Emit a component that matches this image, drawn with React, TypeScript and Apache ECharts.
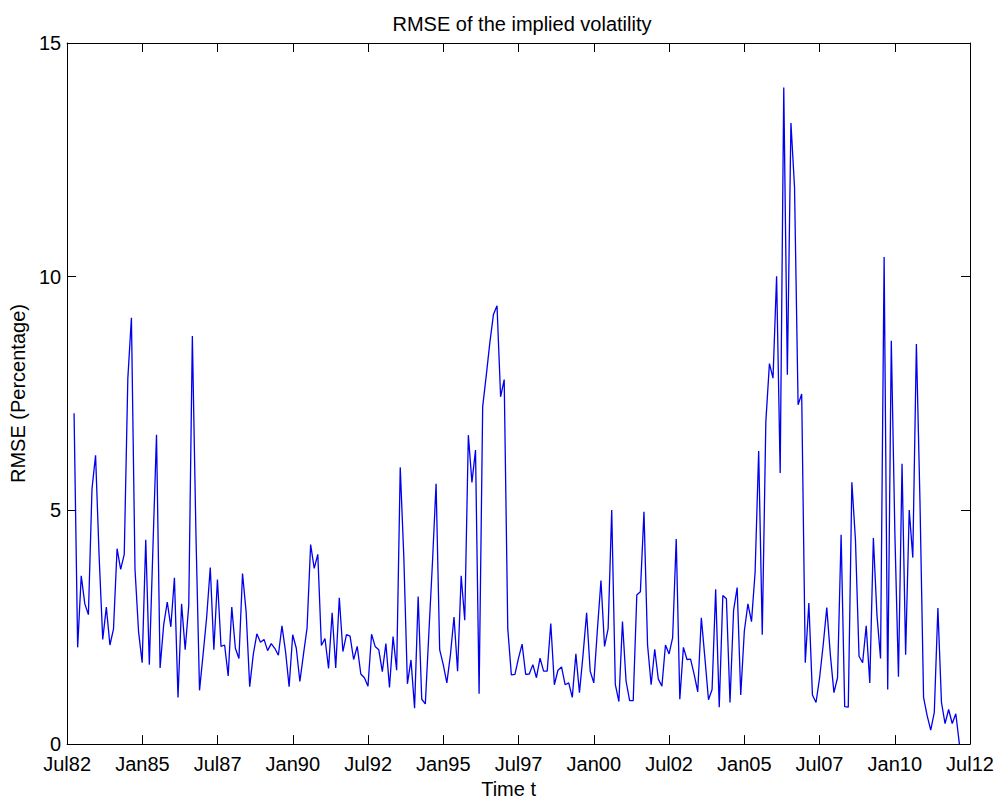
import React, { useEffect, useRef } from "react";
import * as echarts from "echarts";

// RMSE of the implied volatility (percentage)
const rmse: number[] = [
  7.08, 2.07, 3.6, 3.0, 2.77, 5.46, 6.18, 4.0, 2.24, 2.93,
  2.12, 2.46, 4.18, 3.74, 4.06, 7.82, 9.12, 3.74, 2.4, 1.74,
  4.37, 1.7, 4.2, 6.62, 1.63, 2.55, 3.04, 2.51, 3.56, 1.0,
  3.0, 2.02, 2.97, 8.73, 4.5, 1.15, 1.92, 2.72, 3.78, 2.02,
  3.52, 2.09, 2.12, 1.46, 2.93, 2.05, 1.83, 3.65, 2.83, 1.23,
  1.92, 2.36, 2.18, 2.24, 2.0, 2.15, 2.05, 1.9, 2.53, 1.98,
  1.23, 2.34, 2.05, 1.34, 1.92, 2.48, 4.27, 3.76, 4.06, 2.11,
  2.26, 1.62, 2.81, 1.63, 3.13, 1.98, 2.34, 2.31, 1.81, 2.09,
  1.5, 1.42, 1.24, 2.35, 2.09, 2.02, 1.55, 2.15, 1.21, 2.3,
  1.58, 5.92, 4.0, 1.29, 1.8, 0.77, 3.16, 0.96, 0.86, 2.4,
  3.9, 5.57, 2.02, 1.7, 1.31, 1.91, 2.72, 1.56, 3.6, 2.65,
  6.61, 5.6, 6.29, 1.08, 7.22, 7.89, 8.59, 9.19, 9.38, 7.43,
  7.8, 2.47, 1.48, 1.49, 1.84, 2.14, 1.49, 1.5, 1.7, 1.42,
  1.84, 1.56, 1.56, 2.58, 1.27, 1.58, 1.65, 1.27, 1.31, 1.0,
  1.93, 1.1, 1.91, 2.81, 1.56, 1.31, 2.44, 3.5, 2.09, 2.47,
  5.01, 1.28, 0.91, 2.62, 1.35, 0.93, 0.93, 3.19, 3.26, 4.97,
  2.12, 1.27, 2.03, 1.39, 1.24, 2.12, 1.93, 2.28, 4.39, 0.96,
  2.07, 1.81, 1.82, 1.49, 1.12, 2.7, 1.84, 0.95, 1.17, 3.31,
  0.79, 3.18, 3.11, 0.89, 2.86, 3.35, 1.05, 2.42, 3.0, 2.62,
  3.67, 6.27, 2.34, 6.9, 8.14, 7.83, 10.01, 5.8, 14.05, 7.9,
  13.29, 11.92, 7.26, 7.49, 1.74, 3.02, 1.05, 0.89, 1.42, 2.12,
  2.92, 1.91, 1.1, 1.42, 4.48, 0.8, 0.79, 5.6, 4.37, 1.88,
  1.74, 2.53, 1.31, 4.41, 2.76, 1.83, 10.42, 1.17, 8.63, 4.5,
  1.44, 6.0, 1.91, 5.01, 3.99, 8.56, 5.2, 1.0, 0.61, 0.3,
  0.68, 2.91, 0.89, 0.44, 0.74, 0.44, 0.65, 0.0,
];

// date index of the observations (decimal years)
const startYear = 1982.73;
const stepYears = 0.1191;

const xTickLabels = [
  "Jul82", "Jan85", "Jul87", "Jan90", "Jul92", "Jan95", "Jul97",
  "Jan00", "Jul02", "Jan05", "Jul07", "Jan10", "Jul12",
];
const xMin = 1982.5;
const xMax = 2012.5;
const xStep = 2.5;
const yMin = 0;
const yMax = 15;
const yStep = 5;

const FONT = "'Liberation Sans', Arial, Helvetica, sans-serif";

export default function App() {
  const ref = useRef<HTMLDivElement>(null);

  useEffect(() => {
    document.body.style.margin = "0";
    const chart = echarts.init(ref.current!, null, { renderer: "svg" });
    const data = rmse.map((v, i) => [startYear + i * stepYears, v]);

    const baseX = {
      type: "value",
      min: xMin,
      max: xMax,
      interval: xStep,
      splitLine: { show: false },
      axisLine: { show: true, onZero: false, lineStyle: { color: "#000", width: 1 } },
      axisTick: { show: true, inside: true, length: 9, lineStyle: { color: "#000", width: 1 } },
    };
    const baseY = {
      type: "value",
      min: yMin,
      max: yMax,
      interval: yStep,
      splitLine: { show: false },
      axisLine: { show: true, onZero: false, lineStyle: { color: "#000", width: 1 } },
      axisTick: { show: true, inside: true, length: 9, lineStyle: { color: "#000", width: 1 } },
    };

    chart.setOption({
      animation: false,
      backgroundColor: "#fff",
      title: {
        text: "RMSE of the implied volatility",
        left: 517,
        top: 9,
        textAlign: "center",
        textStyle: { fontFamily: FONT, fontSize: 20, fontWeight: "normal", color: "#000" },
      },
      grid: { left: 65, right: 27, top: 43, bottom: 50, containLabel: false },
      xAxis: [
        {
          ...baseX,
          position: "bottom",
          name: "Time t",
          nameLocation: "middle",
          nameGap: 28,
          nameTextStyle: { fontFamily: FONT, fontSize: 20, color: "#000", padding: [0, 20, 0, 0] },
          axisLabel: {
            show: true,
            margin: 10,
            fontFamily: FONT,
            fontSize: 20,
            color: "#000",
            formatter: (v: number) => xTickLabels[Math.round((v - xMin) / xStep)] ?? "",
          },
        },
        { ...baseX, position: "top", axisLabel: { show: false } },
      ],
      yAxis: [
        {
          ...baseY,
          position: "left",
          name: "RMSE (Percentage)",
          nameLocation: "middle",
          nameGap: 38,
          nameRotate: 90,
          nameTextStyle: { fontFamily: FONT, fontSize: 20, color: "#000" },
          axisLabel: { show: true, margin: 6, fontFamily: FONT, fontSize: 20, color: "#000" },
        },
        { ...baseY, position: "right", axisLabel: { show: false } },
      ],
      series: [
        {
          type: "line",
          xAxisIndex: 0,
          yAxisIndex: 0,
          data,
          showSymbol: false,
          symbol: "none",
          lineStyle: { color: "#0000ee", width: 1.3 },
          clip: false,
        },
      ],
    });
    return () => chart.dispose();
  }, []);

  return <div ref={ref} style={{ width: 997, height: 804 }} />;
}
